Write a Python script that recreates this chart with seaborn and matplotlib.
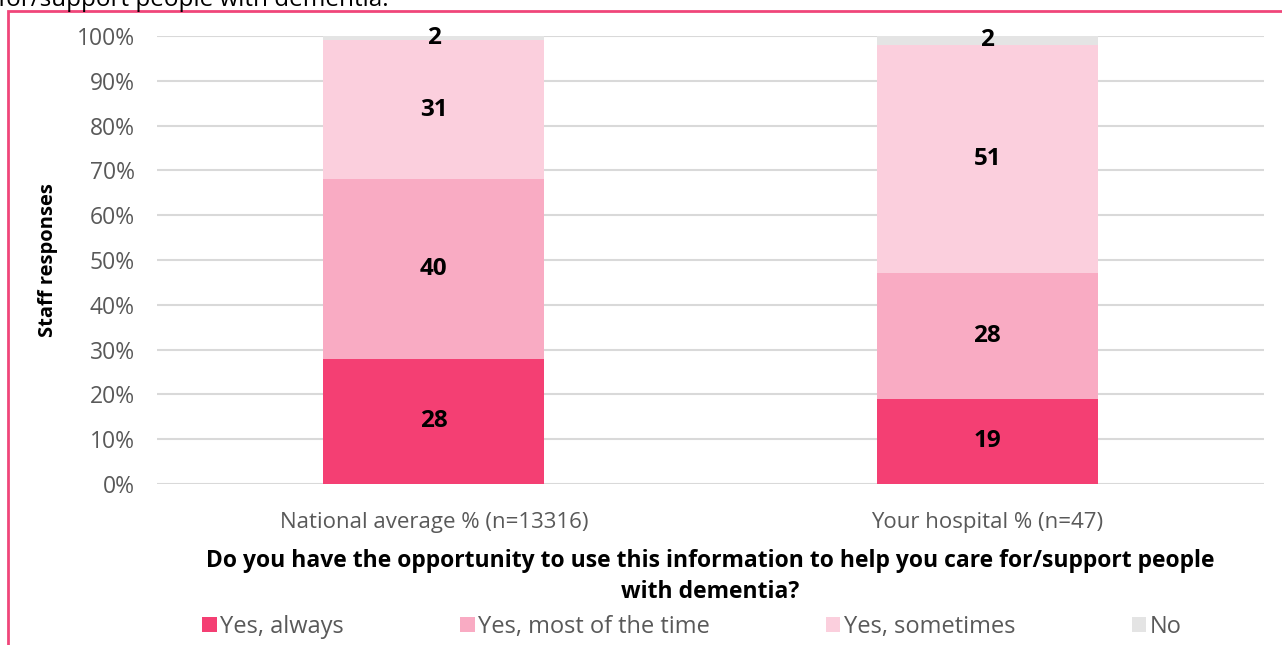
import numpy as np
import pandas as pd
import seaborn as sns
import matplotlib
matplotlib.use("Agg")
import matplotlib.pyplot as plt
from matplotlib.patches import Rectangle, Patch

# data
groups = ["National average % (n=13316)", "Your hospital % (n=47)"]
series = ["Yes, always", "Yes, most of the time", "Yes, sometimes", "No"]
yes_always = [28, 19]
yes_most = [40, 28]
yes_sometimes = [31, 51]
no = [2, 2]
colors = ["#F43F73", "#F9ABC3", "#FBCFDD", "#E4E4E4"]

sns.set_theme(style="white")
plt.rcParams["font.family"] = ["Open Sans", "DejaVu Sans"]

values = [yes_always, yes_most, yes_sometimes, no]
cum = np.cumsum(np.array(values), axis=0)

fig = plt.figure(figsize=(12.82, 6.45), dpi=100)
ax = fig.add_axes([157 / 1282, (645 - 484) / 645, (1264 - 157) / 1282, 448 / 645])

# draw totals from top down so each layer covers the one above it
for i in range(len(series) - 1, -1, -1):
    df = pd.DataFrame({"group": groups, "val": cum[i]})
    sns.barplot(data=df, x="group", y="val", color=colors[i], width=0.4,
                saturation=1, ax=ax, linewidth=0, zorder=2)

for i in range(len(series)):
    for j in range(len(groups)):
        mid = cum[i][j] - values[i][j] / 2
        ax.text(j, min(mid, 99.6), str(values[i][j]), ha="center", va="center",
                fontsize=17.5, fontweight="bold", color="black", zorder=3)

ax.set_ylim(0, 100)
ax.set_xlim(-0.5, 1.5)
ax.set_yticks(np.arange(0, 101, 10))
ax.set_yticklabels([f"{v}%" for v in range(0, 101, 10)])
ax.yaxis.grid(True, color="#D9D9D9", linewidth=1.5, zorder=0)
ax.set_axisbelow(True)
for s in ax.spines.values():
    s.set_visible(False)
ax.tick_params(axis="y", length=0, labelsize=16.5, colors="#595959", pad=16)
ax.tick_params(axis="x", length=0, labelsize=16, colors="#595959", pad=20)
ax.set_ylabel("Staff responses", fontsize=14.5, fontweight="bold", color="black")
ax.yaxis.set_label_coords((58 - 157) / 1107, 0.5)
ax.set_xlabel("Do you have the opportunity to use this information to help you care for/support people\nwith dementia?",
              fontsize=16.5, fontweight="bold", color="black", labelpad=12, linespacing=1.35)

handles = [Patch(facecolor=c, edgecolor="none") for c in colors]
leg = fig.legend(handles, series, loc="center", bbox_to_anchor=(692 / 1282, 1 - 627 / 645),
                 ncol=4, frameon=False, fontsize=17, handlelength=0.6, handleheight=0.6,
                 handletextpad=0.15, columnspacing=4.93, labelcolor="#595959")

# cut-off title line and the pink frame of the original report
fig.text(-2 / 1282, 1 - 6 / 645, "for/support people with dementia.", fontsize=17.5,
         color="black", va="baseline", ha="left")
fig.patches.append(Rectangle((8 / 1282, -0.1), 1.2, 1 - 11 / 645 + 0.1, transform=fig.transFigure,
                             fill=False, edgecolor="#F0467A", linewidth=2))

fig.savefig("out.png", dpi=100)
